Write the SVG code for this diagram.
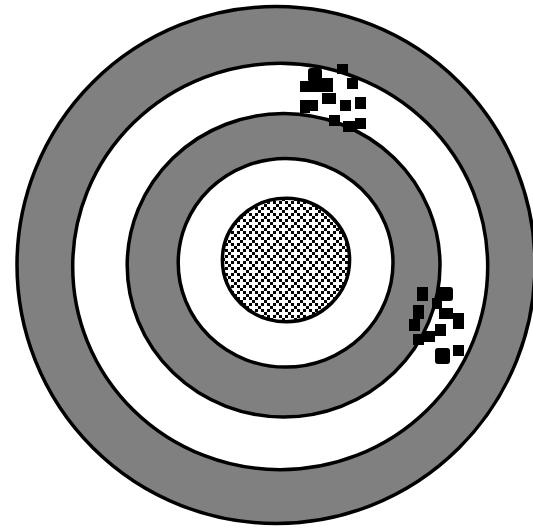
<svg xmlns="http://www.w3.org/2000/svg" width="533" height="529" viewBox="0 0 533 529">
  <style>
    .ring { stroke: #000; stroke-width: 3.5; }
    .gray { fill: #808080; }
    .white { fill: #fff; }
    .hole { fill: #000; }
  </style>
  <defs>
    <pattern id="chk" patternUnits="userSpaceOnUse" x="222" y="198" width="12" height="12">
      <rect width="12" height="12" fill="#fff"/>
      <rect x="0" y="0" width="3" height="3" fill="#000"/>
      <rect x="3" y="3" width="3" height="3" fill="#000"/>
      <rect x="6" y="6" width="3" height="3" fill="#000"/>
      <rect x="9" y="9" width="3" height="3" fill="#000"/>
      <rect x="9" y="3" width="3" height="3" fill="#000"/>
      <rect x="3" y="9" width="3" height="3" fill="#000"/>
    </pattern>
  </defs>
  <rect width="533" height="529" fill="#fff"/>
  <g id="ring1"><ellipse class="ring gray" cx="276" cy="265" rx="259" ry="258.5"/></g>
  <g id="ring2"><ellipse class="ring white" cx="280.2" cy="266.5" rx="207.5" ry="203.2"/></g>
  <g id="ring3"><ellipse class="ring gray" cx="283.6" cy="265.3" rx="156.4" ry="151.7"/></g>
  <g id="ring4"><ellipse class="ring white" cx="285.6" cy="262.8" rx="107.4" ry="104.3"/></g>
  <g id="bullseye"><ellipse class="ring" fill="url(#chk)" cx="286" cy="260" rx="63.6" ry="61.7"/></g>
  <g id="holes-top" class="hole">
    <rect x="337" y="64" width="11" height="10"/>
    <rect x="308" y="68" width="14" height="14" rx="3"/>
    <rect x="300" y="81" width="11" height="11"/>
    <rect x="311" y="78" width="22" height="14"/>
    <rect x="347" y="78" width="11" height="11"/>
    <rect x="322" y="93" width="14" height="11"/>
    <rect x="300" y="100" width="18" height="11"/>
    <rect x="300" y="108" width="10" height="5"/>
    <rect x="340" y="100" width="11" height="11"/>
    <rect x="355" y="97" width="11" height="12"/>
    <rect x="329" y="115" width="11" height="11"/>
    <rect x="343" y="121" width="12" height="11"/>
    <rect x="355" y="118" width="11" height="11"/>
  </g>
  <g id="holes-right" class="hole">
    <rect x="417" y="287" width="11" height="14"/>
    <rect x="437" y="287" width="16" height="14" rx="3"/>
    <rect x="432" y="298" width="10" height="11"/>
    <rect x="413" y="305" width="11" height="14"/>
    <rect x="439" y="308" width="14" height="11"/>
    <rect x="453" y="313" width="11" height="16"/>
    <rect x="409" y="319" width="11" height="12"/>
    <rect x="435" y="324" width="11" height="12"/>
    <rect x="413" y="334" width="11" height="11"/>
    <rect x="423" y="331" width="12" height="11"/>
    <rect x="435" y="348" width="15" height="16" rx="3"/>
    <rect x="453" y="345" width="11" height="11"/>
  </g>
</svg>
